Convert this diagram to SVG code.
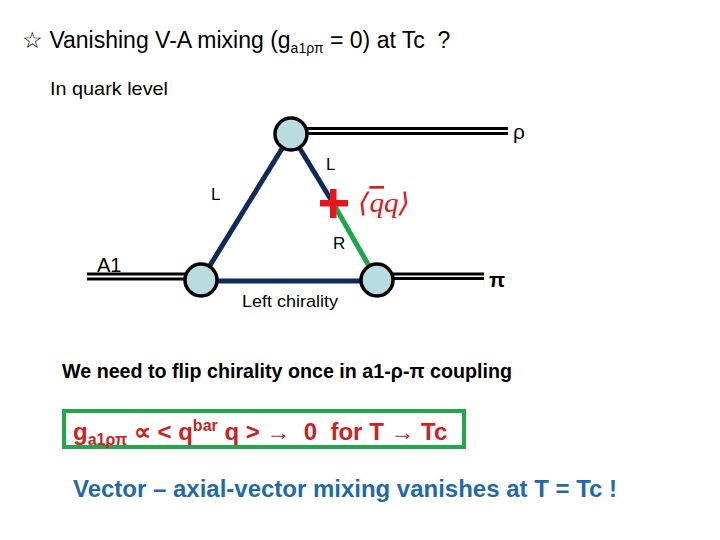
<svg xmlns="http://www.w3.org/2000/svg" width="720" height="540" viewBox="0 0 720 540">
<style>
.t{font-family:"Liberation Sans",Arial,sans-serif;fill:#000}
.q{stroke:#102a5c;stroke-width:5;fill:none}
.dl{stroke:#000;stroke-width:3;fill:none}
.node{fill:#b8dce0;stroke:#000;stroke-width:3.5}
.lab{font-family:"Liberation Sans",Arial,sans-serif;font-size:17px}
</style>
<rect width="720" height="540" fill="#fff"/>
<text class="t" x="22" y="48" font-size="23" xml:space="preserve">☆ Vanishing V-A mixing (g<tspan font-size="14" dy="5">a1ρπ</tspan><tspan dy="-5"> = 0) at Tc  ?</tspan></text>
<text class="t" x="50" y="95" font-size="19" textLength="118" lengthAdjust="spacingAndGlyphs">In quark level</text>
<g id="connectors">
<line class="q" x1="291" y1="134" x2="201" y2="280"/>
<line class="q" x1="291" y1="134" x2="333" y2="203"/>
<line x1="333" y1="203" x2="377" y2="280" stroke="#1fa64a" stroke-width="5"/>
<line class="q" x1="201" y1="281" x2="377" y2="281"/>
<line class="dl" x1="291" y1="128.5" x2="508" y2="128.5"/>
<line class="dl" x1="291" y1="133.5" x2="508" y2="133.5"/>
<line class="dl" x1="377" y1="274" x2="484" y2="274"/>
<line class="dl" x1="377" y1="278.5" x2="484" y2="278.5"/>
<line class="dl" x1="87" y1="274" x2="201" y2="274"/>
<line class="dl" x1="87" y1="279" x2="201" y2="279"/>
</g>
<g id="node-rho-vertex"><circle class="node" cx="291" cy="134" r="16"/></g>
<g id="node-a1-vertex"><circle class="node" cx="201" cy="280" r="16"/></g>
<g id="node-pi-vertex"><circle class="node" cx="377" cy="280" r="16"/></g>
<g id="cross">
<rect x="320" y="200" width="28" height="6.5" fill="#e8141c"/>
<rect x="330" y="189" width="6.5" height="29" fill="#e8141c"/>
<text x="358" y="212" font-family="'Liberation Serif','DejaVu Serif',serif" font-style="italic" font-size="27" fill="#d42020" textLength="52" lengthAdjust="spacingAndGlyphs">⟨<tspan text-decoration="overline">q</tspan>q⟩</text>
</g>
<text class="lab" x="326" y="170">L</text>
<text class="lab" x="211" y="200">L</text>
<text class="lab" x="333" y="249">R</text>
<text class="lab" x="242" y="307" textLength="96" lengthAdjust="spacingAndGlyphs">Left chirality</text>
<text class="t" x="97" y="272" font-size="20">A1</text>
<text class="t" x="513" y="139" font-size="21">ρ</text>
<text class="t" x="489" y="287" font-size="21" font-weight="bold">π</text>
<text class="t" x="62" y="378" font-size="19.5" font-weight="bold" textLength="450" lengthAdjust="spacingAndGlyphs">We need to flip chirality once in a1-ρ-π coupling</text>
<rect x="64" y="411" width="400" height="36" fill="none" stroke="#22a84a" stroke-width="4"/>
<text x="73" y="440" font-family="'Liberation Sans',Arial,sans-serif" font-size="24" font-weight="bold" fill="#cc2222" xml:space="preserve">g<tspan font-size="16" dy="5">a1ρπ</tspan><tspan dy="-5"> ∝ &lt; q</tspan><tspan font-size="16" dy="-9">bar</tspan><tspan dy="9"> q &gt; →  0  for T → Tc</tspan></text>
<text x="73" y="497" font-family="'Liberation Sans',Arial,sans-serif" font-size="23.5" font-weight="bold" fill="#1f6aa8" textLength="544" lengthAdjust="spacingAndGlyphs">Vector – axial-vector mixing vanishes at T = Tc !</text>
</svg>
